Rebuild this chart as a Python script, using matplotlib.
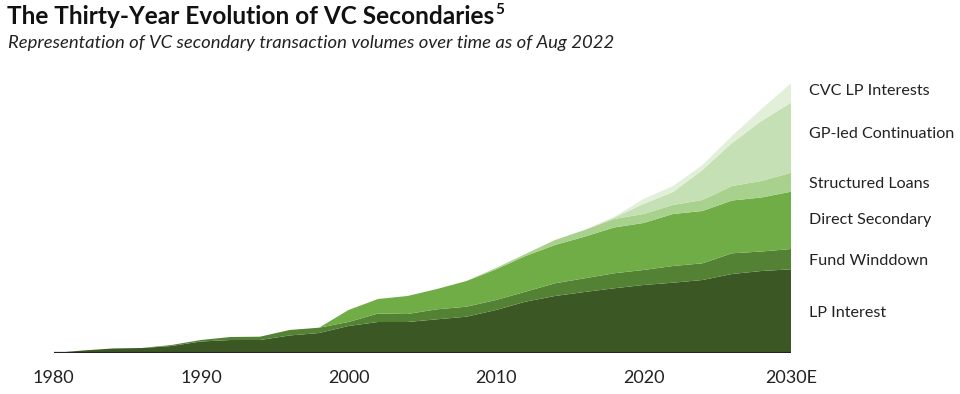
"""Thirty-year evolution of VC secondaries - stacked area chart."""

import matplotlib
matplotlib.use("Agg")
import matplotlib.pyplot as plt

plt.rcParams["font.family"] = ["Lato", "DejaVu Sans"]

# Years (every two years, 2030 is an estimate)
years = list(range(1980, 2031, 2))

# Transaction volume per segment (relative units)
lp_interest = [0, 2.5, 4.5, 5, 7, 11.5, 13, 13, 17.5, 20, 27, 31, 31,
               33.7, 36.3, 43, 51.3, 57, 61, 64.7, 68, 70.3, 73, 79, 82, 83.7]
fund_winddown = [0, 0, 0, 0, 1, 1.5, 3, 3.3, 5.5, 5.3, 4, 8.5, 8,
                 10, 10, 10, 10, 12.7, 13.7, 15, 15, 16.7, 16.7, 20.7, 19.5, 20.3]
direct_secondary = [0, 0, 0, 0, 0, 0, 0, 0, 0, 0, 12, 14.5, 18,
                    20.3, 25.7, 30.7, 35.7, 38.3, 41.6, 45.8, 47, 52, 52.3, 52.8, 54, 57.3]
structured_loans = [0, 0, 0, 0, 0, 0, 0, 0, 0, 0, 0, 0, 0,
                    0, 0, 1.3, 2, 5, 6.7, 8.5, 9, 9, 11, 14.5, 16.5, 19]
gp_led = [0, 0, 0, 0, 0, 0, 0, 0, 0, 0, 0, 0, 0,
          0, 0, 0, 0, 0, 0, 1.5, 10, 13, 30, 43, 60, 70]
cvc_lp = [0, 0, 0, 0, 0, 0, 0, 0, 0, 0, 0, 0, 0,
          0, 0, 0, 0, 0, 0, 0.5, 5, 6, 5, 7, 12, 19.5]

series = [lp_interest, fund_winddown, direct_secondary,
          structured_loans, gp_led, cvc_lp]
labels = ["LP Interest", "Fund Winddown", "Direct Secondary",
          "Structured Loans", "GP-led Continuation", "CVC LP Interests"]
colors = ["#3a5724", "#548235", "#70ad47", "#a9d18e", "#c5e0b4", "#e2f0d9"]

tick_years = [1980, 1990, 2000, 2010, 2020, 2030]
tick_labels = ["1980", "1990", "2000", "2010", "2020", "2030E"]

fig = plt.figure(figsize=(9.6, 3.94), dpi=100)
ax = fig.add_axes([53.5 / 960, 41 / 394, (791 - 53.5) / 960, 275 / 394])

ax.stackplot(years, *series, colors=colors, linewidth=0)
ax.axhline(0, color="#222222", linewidth=1.6, xmin=-0.002, xmax=1.0)

ax.set_xlim(1980, 2030)
ax.set_ylim(0, 275)
for s in ax.spines.values():
    s.set_visible(False)
ax.set_yticks([])
ax.set_xticks(tick_years)
ax.set_xticklabels(tick_labels, fontsize=13, color="#222222")
ax.tick_params(axis="x", length=0, pad=12)

# Segment labels on the right (y in pixels from top of figure)
label_y_px = [313, 261, 220, 184, 134, 91]
for lab, ypx in zip(labels, label_y_px):
    fig.text(809 / 960, 1 - ypx / 394, lab, fontsize=11.6, color="#222222",
             ha="left", va="center")

# Title with superscript footnote marker
title = fig.text(7 / 960, 1 - 16 / 394, "The Thirty-Year Evolution of VC Secondaries",
                 fontsize=17.6, fontweight="bold", color="#111111",
                 ha="left", va="center")
fig.canvas.draw()
bb = title.get_window_extent(fig.canvas.get_renderer())
fig.text(bb.x1 / 960 + 0.001, 1 - 10 / 394, "5", fontsize=11,
         fontweight="bold", color="#111111", ha="left", va="center")

fig.text(8 / 960, 1 - 43 / 394,
         "Representation of VC secondary transaction volumes over time as of Aug 2022",
         fontsize=13.3, fontstyle="italic", color="#222222", ha="left", va="center")

fig.savefig("out.png", dpi=100)
